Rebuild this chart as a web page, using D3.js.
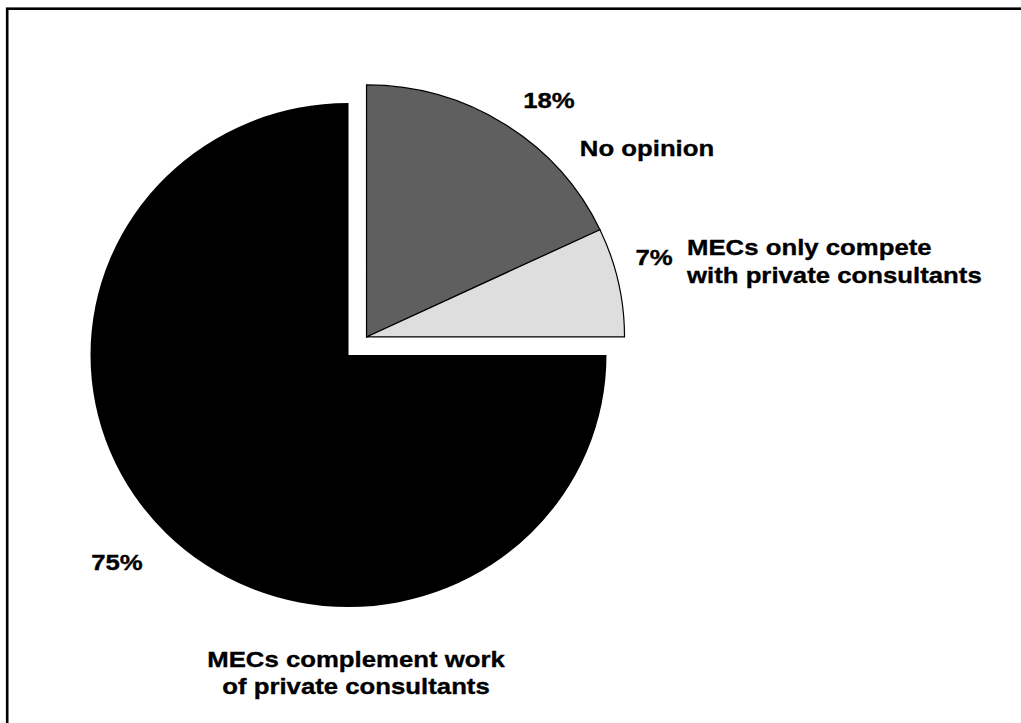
<!DOCTYPE html>
<html>
<head>
<meta charset="utf-8">
<script src="https://cdn.jsdelivr.net/npm/d3@7"></script>
<style>
  html, body { margin: 0; padding: 0; background: #fff; }
  svg { display: block; }
  text { font-family: "Liberation Sans", Arial, Helvetica, sans-serif; font-weight: bold; font-size: 23px; fill: #000; stroke: #000; stroke-width: 0.35px; }
</style>
</head>
<body>
<svg id="chart" width="1021" height="723"></svg>
<script>
// ---- data ----
const categories = ["No opinion", "MECs only compete with private consultants", "MECs complement work of private consultants"];
const values = [18, 7, 75];
const pctLabels = ["18%", "7%", "75%"];
const nameLines = [["No opinion"], ["MECs only compete", "with private consultants"], ["MECs complement work", "of private consultants"]];
const exploded = [true, true, false];

// ---- style / layout ----
const colors = ["#5f5f5f", "#dedede", "#000000"];
const W = 1021, H = 723;
const cx = 348.5, cy = 355, R = 252, sx = 258 / 252;
const explodeDist = 25.5;
const stretch = 1.12;
// label layout: [x, y, anchor]
const pctPos = [[549, 107.5, "middle"], [654, 265, "middle"], [117, 570, "middle"]];
const namePos = [[647, 155.5, "middle"], [687, 255, "start"], [356, 666.5, "middle"]];
const lineGap = 27.5;

const svg = d3.select("#chart");

// frame (extends beyond right/bottom edges)
svg.append("rect")
  .attr("x", 7.2).attr("y", 8.7)
  .attr("width", W + 50).attr("height", H + 50)
  .attr("fill", "none").attr("stroke", "#000").attr("stroke-width", 2.6);

const pie = d3.pie().sort(null).value(d => d)(values);
const arc = d3.arc().innerRadius(0).outerRadius(R);

const g = svg.append("g").attr("transform", `translate(${cx},${cy}) scale(${sx},1)`);

const order = d3.range(pie.length).sort((a, b) => (exploded[a] - exploded[b]));
const exMid = (() => {
  const ex = pie.filter((d, i) => exploded[i]);
  return (d3.min(ex, d => d.startAngle) + d3.max(ex, d => d.endAngle)) / 2;
})();

order.forEach(i => {
  const d = pie[i];
  let dx = 0, dy = 0;
  if (exploded[i]) {
    dx = Math.sin(exMid) * explodeDist / sx;
    dy = -Math.cos(exMid) * explodeDist;
  }
  g.append("path")
    .attr("d", arc(d))
    .attr("transform", `translate(${dx},${dy})`)
    .attr("fill", colors[i])
    .attr("stroke", exploded[i] ? "#000" : "none")
    .attr("stroke-width", 1.2)
    .attr("vector-effect", "non-scaling-stroke");
});

function addText(txt, x, y, anchor) {
  svg.append("text")
    .attr("transform", `translate(${x},${y}) scale(${stretch},1)`)
    .attr("text-anchor", anchor)
    .text(txt);
}

pie.forEach((d, i) => {
  addText(pctLabels[i], pctPos[i][0], pctPos[i][1], pctPos[i][2]);
  nameLines[i].forEach((ln, k) => {
    addText(ln, namePos[i][0], namePos[i][1] + k * lineGap, namePos[i][2]);
  });
});
</script>
</body>
</html>
